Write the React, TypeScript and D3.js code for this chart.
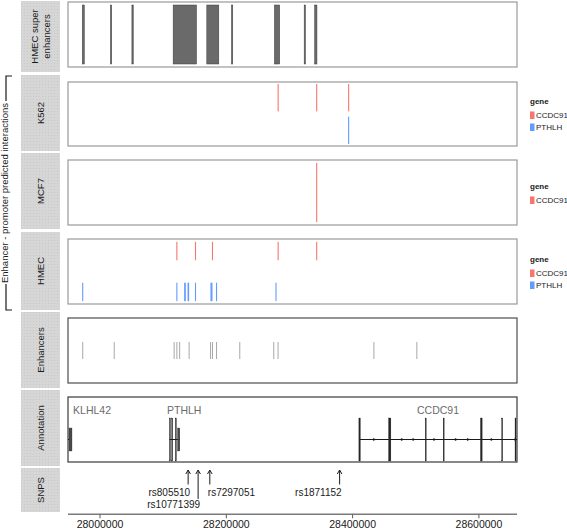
import React from 'react';
import * as d3 from 'd3';

const WIDTH = 567;
const HEIGHT = 530;
const FONT = '"Liberation Sans", Arial, Helvetica, sans-serif';

// genomic window and axis
const xDomain: [number, number] = [27949300, 28660300];
const axisTicks = [28000000, 28200000, 28400000, 28600000];

// HMEC super enhancers
const superEnhancerStart = [27971900, 28016500, 28050500, 28115800, 28169100, 28208200, 28276150, 28323300, 28339900];
const superEnhancerEnd = [27975100, 28018500, 28052600, 28152800, 28188100, 28210200, 28284500, 28325300, 28343500];

// interaction gene levels
const geneLevels = ['CCDC91', 'PTHLH'];
const geneColors = ['#F8766D', '#619CFF'];

// K562
const k562Gene = ['CCDC91', 'CCDC91', 'CCDC91', 'PTHLH'];
const k562Start = [28281300, 28342300, 28392900, 28392900];
const k562End = [28282900, 28343900, 28394500, 28394500];

// MCF7
const mcf7Gene = ['CCDC91'];
const mcf7Start = [28342300];
const mcf7End = [28343900];

// HMEC
const hmecGene = ['CCDC91', 'CCDC91', 'CCDC91', 'CCDC91', 'CCDC91',
  'PTHLH', 'PTHLH', 'PTHLH', 'PTHLH', 'PTHLH', 'PTHLH', 'PTHLH', 'PTHLH'];
const hmecStart = [28120900, 28150400, 28177300, 28281300, 28342300,
  27971800, 28120900, 28133200, 28138600, 28150400, 28174900, 28183700, 28277900];
const hmecEnd = [28122500, 28152000, 28178900, 28282900, 28343900,
  27973400, 28122500, 28135900, 28141100, 28152000, 28178100, 28185300, 28279500];

// Enhancers
const enhancerStart = [27971800, 28021700, 28116600, 28120900, 28125300, 28140300, 28174200, 28177300,
  28183700, 28220500, 28274300, 28281100, 28432900, 28500900];
const enhancerEnd = [27973400, 28023300, 28118200, 28122500, 28126900, 28141900, 28175800, 28178900,
  28185300, 28222100, 28275900, 28282700, 28434500, 28502500];

// Annotation: genes
const geneNames = ['KLHL42', 'PTHLH', 'CCDC91'];
const geneLabelPos = [27957400, 28106100, 28502000];
const geneSpanStart = [27949300, 28110000, 28410000];
const geneSpanEnd = [27955600, 28126400, 28670000];
const geneStrand = [-1, -1, 1];

// Annotation: exons
const exonGene = ['KLHL42', 'PTHLH', 'PTHLH', 'PTHLH', 'PTHLH',
  'CCDC91', 'CCDC91', 'CCDC91', 'CCDC91', 'CCDC91', 'CCDC91', 'CCDC91'];
const exonType = ['utr', 'cds', 'cds', 'cds', 'utr',
  'cds', 'cds', 'cds', 'cds', 'cds', 'cds', 'cds'];
const exonStart = [27950900, 28110000, 28113500, 28119300, 28122760,
  28409900, 28456900, 28515000, 28543400, 28602400, 28636100, 28657200];
const exonEnd = [27955600, 28111500, 28115000, 28120900, 28126400,
  28412200, 28460600, 28516500, 28544900, 28605100, 28637500, 28658700];

// SNPs
const snpNames = ['rs805510', 'rs10771399', 'rs7297051', 'rs1871152'];
const snpPos = [28139530, 28155340, 28173840, 28379410];
const snpLevel = [0, 1, 0, 0];
const snpSide = ['left', 'left', 'right', 'left'];

// strip labels
const stripLabels: string[][] = [['HMEC super', 'enhancers'], ['K562'], ['MCF7'], ['HMEC'], ['Enhancers'], ['Annotation'], ['SNPS']];
const sideTitle = 'Enhancer - promoter predicted interactions';

const stripX: [number, number] = [21, 60];
const plotX: [number, number] = [68, 517];
const stripY: [number, number][] = [[1, 72], [75, 151], [153, 229], [232, 310], [312, 388], [390, 466], [468, 512]];
const boxY: [number, number][] = [[2, 67], [82, 146], [160, 225], [239, 304], [318, 383], [397, 462]];
const boxStroke = ['#9a9a9a', '#9a9a9a', '#9a9a9a', '#9a9a9a', '#4d4d4d', '#3a3a3a'];

const x = d3.scaleLinear().domain(xDomain).range(plotX);

function rectW(s: number, e: number, min = 1) {
  const a = x(s), b = x(e);
  const w = Math.max(min, b - a);
  const c = (a + b) / 2;
  return { x: c - w / 2, w };
}

function Legend({ y0, levels }: { y0: number; levels: string[] }) {
  return (
    <g>
      <text x={530} y={y0} fontSize={8} fontWeight="bold" fill="#1a1a1a" fontFamily={FONT}>gene</text>
      {levels.map((lv, i) => (
        <g key={lv}>
          <rect x={530} y={y0 + 7.5 + i * 12} width={4.5} height={7.5}
            fill={geneColors[geneLevels.indexOf(lv)]} />
          <text x={536} y={y0 + 14.3 + i * 12} fontSize={8} fill="#1a1a1a" fontFamily={FONT}>{lv}</text>
        </g>
      ))}
    </g>
  );
}

function InteractionPanel({ box, genes, starts, ends, levels, pInner, pOuter }:
  { box: [number, number]; genes: string[]; starts: number[]; ends: number[]; levels: string[]; pInner: number; pOuter: number }) {
  const y = d3.scaleBand<string>().domain(levels).range(box).paddingInner(pInner).paddingOuter(pOuter);
  return (
    <g>
      {genes.map((g, i) => {
        const r = rectW(starts[i], ends[i], 1.1);
        return <rect key={i} x={r.x} width={r.w} y={y(g)!} height={y.bandwidth()}
          fill={geneColors[geneLevels.indexOf(g)]} />;
      })}
    </g>
  );
}

export default function App() {
  const annMid = 439.5;
  const cdsH = 43;
  const utrH = 23;

  // chevrons along introns
  const chevrons: { cx: number; dir: number }[] = [];
  geneNames.forEach((gname, gi) => {
    const ex = exonStart.map((s, i) => ({ s, e: exonEnd[i], g: exonGene[i] }))
      .filter(d => d.g === gname).sort((a, b) => a.s - b.s);
    for (let k = 0; k < ex.length - 1; k++) {
      const a = x(ex[k].e), b = Math.min(x(ex[k + 1].s), plotX[1]);
      const n = Math.floor((b - a) / 16);
      for (let j = 1; j <= n; j++) chevrons.push({ cx: a + (b - a) * j / (n + 1), dir: geneStrand[gi] });
    }
    const lastEnd = x(ex[ex.length - 1].e);
    const spanEnd = Math.min(x(geneSpanEnd[gi]), plotX[1]);
    if (spanEnd - lastEnd > 0.5 && geneStrand[gi] > 0) chevrons.push({ cx: spanEnd - 1.2, dir: 1 });
  });

  const seY = [boxY[0][0] + 3, boxY[0][1] - 3];
  const enhY = [342, 359];

  return (
    <svg width={WIDTH} height={HEIGHT} style={{ position: 'absolute', left: 0, top: 0 }}
      fontFamily={FONT}>
      <defs>
        <clipPath id="plotclip">
          <rect x={plotX[0]} y={0} width={plotX[1] - plotX[0]} height={HEIGHT} />
        </clipPath>
        <pattern id="stripPat" width={3} height={3} patternUnits="userSpaceOnUse">
          <rect width={3} height={3} fill="#d6d6d6" />
          <rect width={1} height={1} fill="#c9c9c9" />
        </pattern>
      </defs>
      <rect width={WIDTH} height={HEIGHT} fill="#ffffff" />

      {/* strips */}
      {stripY.map((sy, i) => {
        const cy = (sy[0] + sy[1]) / 2;
        const cx = (stripX[0] + stripX[1]) / 2;
        const lines = stripLabels[i];
        return (
          <g key={i}>
            <rect x={stripX[0]} y={sy[0]} width={stripX[1] - stripX[0]} height={sy[1] - sy[0]} fill="url(#stripPat)" />
            <text transform={`translate(${cx},${cy}) rotate(-90)`} textAnchor="middle" fontSize={9.5} fill="#1a1a1a">
              {lines.map((l, k) => (
                <tspan key={k} x={0} y={(k - (lines.length - 1) / 2) * 11.5 + 3.4}>{l}</tspan>
              ))}
            </text>
          </g>
        );
      })}

      {/* boxes */}
      {boxY.map((by, i) => (
        <rect key={i} x={plotX[0]} y={by[0]} width={plotX[1] - plotX[0]} height={by[1] - by[0]}
          fill="#ffffff" stroke={boxStroke[i]} strokeWidth={1.2} />
      ))}

      {/* super enhancers */}
      <g>
        {superEnhancerStart.map((s, i) => {
          const r = rectW(s, superEnhancerEnd[i], 1.2);
          return <rect key={i} x={r.x} width={r.w} y={seY[0]} height={seY[1] - seY[0]}
            fill="#6a6a6a" stroke="#3c3c3c" strokeWidth={0.5} />;
        })}
      </g>

      <InteractionPanel box={[boxY[1][0], boxY[1][1]]} genes={k562Gene} starts={k562Start} ends={k562End}
        levels={geneLevels} pInner={0.16} pOuter={0.06} />
      <InteractionPanel box={[boxY[2][0], boxY[2][1]]} genes={mcf7Gene} starts={mcf7Start} ends={mcf7End}
        levels={['CCDC91']} pInner={0} pOuter={0.05} />
      <InteractionPanel box={[boxY[3][0], boxY[3][1]]} genes={hmecGene} starts={hmecStart} ends={hmecEnd}
        levels={geneLevels} pInner={0.55} pOuter={0.07} />

      <Legend y0={104} levels={geneLevels} />
      <Legend y0={189} levels={['CCDC91']} />
      <Legend y0={262} levels={geneLevels} />

      {/* enhancers */}
      <g>
        {enhancerStart.map((s, i) => {
          const r = rectW(s, enhancerEnd[i], 1);
          return <rect key={i} x={r.x} width={r.w} y={enhY[0]} height={enhY[1] - enhY[0]} fill="#8c8c8c" opacity={0.75} />;
        })}
      </g>

      {/* annotation */}
      <g clipPath="url(#plotclip)">
        {geneNames.map((g, i) => (
          <line key={g} x1={Math.max(x(geneSpanStart[i]), plotX[0])} x2={Math.min(x(geneSpanEnd[i]), plotX[1])}
            y1={annMid} y2={annMid} stroke="#1a1a1a" strokeWidth={1} />
        ))}
        {chevrons.map((c, i) => (
          <path key={i} d={`M${c.cx - 1 * c.dir},${annMid - 1.1} L${c.cx + 0.9 * c.dir},${annMid} L${c.cx - 1 * c.dir},${annMid + 1.1}Z`}
            fill="#1a1a1a" stroke="#1a1a1a" strokeWidth={0.6} />
        ))}
        {exonStart.map((s, i) => {
          const r = rectW(s, exonEnd[i], 1);
          const h = exonType[i] === 'cds' ? cdsH : utrH;
          return <rect key={i} x={r.x} width={r.w} y={annMid - h / 2} height={h}
            fill={exonType[i] === 'cds' ? '#262626' : '#4a4a4a'} stroke="#222" strokeWidth={0.3} />;
        })}
        {geneNames.map((g, i) => (
          <text key={g} x={x(geneLabelPos[i])} y={413.5} fontSize={10.5} fill="#6b6b6b">{g}</text>
        ))}
      </g>

      {/* SNPs */}
      <g>
        {snpNames.map((n, i) => {
          const sx = x(snpPos[i]);
          const tip = 470;
          const base = snpLevel[i] === 0 ? 484.5 : 499;
          const ty = snpLevel[i] === 0 ? 495.7 : 508.3;
          const left = snpSide[i] === 'left';
          return (
            <g key={n}>
              <line x1={sx} x2={sx} y1={base} y2={tip + 0.5} stroke="#1a1a1a" strokeWidth={1} />
              <path d={`M${sx - 2.3},${tip + 4} L${sx},${tip} L${sx + 2.3},${tip + 4}`} fill="none" stroke="#1a1a1a" strokeWidth={1} />
              <text x={left ? sx + 2 : sx - 2} y={ty} fontSize={10} textAnchor={left ? 'end' : 'start'} fill="#1a1a1a">{n}</text>
            </g>
          );
        })}
      </g>

      {/* x axis */}
      <g>
        <line x1={plotX[0]} x2={plotX[1]} y1={514.3} y2={514.3} stroke="#7a7a7a" strokeWidth={1.5} />
        {axisTicks.map(t => (
          <g key={t}>
            <line x1={x(t)} x2={x(t)} y1={514.3} y2={518.3} stroke="#5a5a5a" strokeWidth={1} />
            <text x={x(t)} y={528} textAnchor="middle" fontSize={10.5} fill="#1a1a1a">{t}</text>
          </g>
        ))}
      </g>

      {/* side bracket and title */}
      <path d="M12,76 L6,76 L6,101" fill="none" stroke="#1a1a1a" strokeWidth={1.2} />
      <path d="M6,284 L6,310 L12,310" fill="none" stroke="#1a1a1a" strokeWidth={1.2} />
      <text transform="translate(8.3,193) rotate(-90)" textAnchor="middle" fontSize={9.5} fill="#1a1a1a">{sideTitle}</text>
    </svg>
  );
}
